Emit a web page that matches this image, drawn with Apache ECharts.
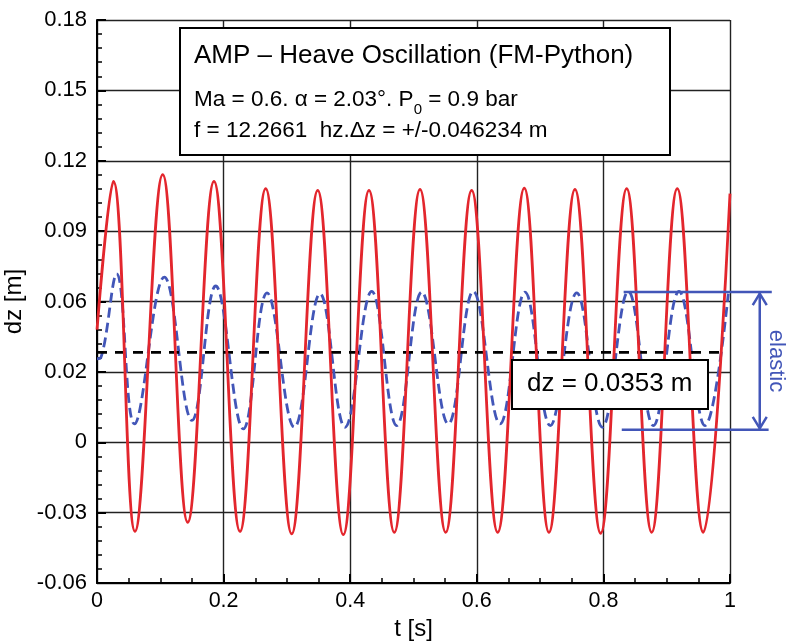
<!DOCTYPE html>
<html><head><meta charset="utf-8">
<script src="https://cdn.jsdelivr.net/npm/echarts@6/dist/echarts.min.js"></script>
<style>html,body{margin:0;padding:0;background:#fff}#c{width:786px;height:641px}</style>
</head><body><div id="c"></div>
<script>
// ---- data ----
const xTickLabels = ['0', '0.2', '0.4', '0.6', '0.8', '1'];
const yTickLabels = ['-0.06', '-0.03', '0', '0.02', '0.06', '0.09', '0.12', '0.15', '0.18'];

// red solid curve: start, alternating peaks / troughs, end
const redT = [0, 0.0258, 0.060, 0.1038, 0.1433, 0.1848, 0.2259, 0.2665, 0.3076, 0.3487, 0.3891, 0.4297, 0.4697,
  0.5103, 0.5509, 0.5919, 0.633, 0.675, 0.714, 0.7551, 0.7957, 0.8368, 0.8763, 0.9167, 0.9578, 1.0];
const redV = [0.048, 0.1112, -0.038, 0.1141, -0.0341, 0.1112, -0.038, 0.1081, -0.0391, 0.1074, -0.0394, 0.1074, -0.0384,
  0.1078, -0.0384, 0.1074, -0.0384, 0.1083, -0.0384, 0.1078, -0.0388, 0.1081, -0.0384, 0.1081, -0.0384, 0.106];

// blue dashed curve (elastic)
const blueT = [0, 0.006, 0.0311, 0.0591, 0.1063, 0.150, 0.1875, 0.2311, 0.2686, 0.3117, 0.3523, 0.3918, 0.434, 0.4735,
  0.513, 0.555, 0.5945, 0.6367, 0.6761, 0.716, 0.7578, 0.7983, 0.8394, 0.8789, 0.9194, 0.9605, 0.9973];
const blueV = [0.0356, 0.036, 0.0718, 0.0078, 0.0704, 0.0093, 0.0666, 0.0057, 0.0637, 0.0064, 0.0633, 0.0064, 0.0643, 0.0071,
  0.064, 0.0078, 0.0643, 0.0078, 0.064, 0.0071, 0.0637, 0.0064, 0.0643, 0.0071, 0.0643, 0.0071, 0.0633];

// black dashed mean line
const meanT = [0, 0.992];
const meanV = [0.0383, 0.0383];

// elastic amplitude bracket (bottom, top)
const elasticRange = [0.0053, 0.064];

const titleText = 'AMP \u2013 Heave Oscillation (FM-Python)';
const dzText = 'dz = 0.0353 m';

// ---- chart ----
const FONT = "'Liberation Sans', Arial, sans-serif";
const RED = '#e3262d';
const BLUE = '#4256b8';
const zip = (a, b) => a.map((v, i) => [v, b[i]]);
const chart = echarts.init(document.getElementById('c'), null, { renderer: 'canvas' });

const axisCommon = {
  axisLine: { onZero: false, lineStyle: { color: '#000', width: 2 } },
  axisTick: { inside: true, length: 9, lineStyle: { color: '#000', width: 2 } },
  splitLine: { show: true, lineStyle: { color: '#222', width: 1.4 } },
  nameLocation: 'middle',
  nameTextStyle: { fontSize: 24, color: '#000', fontFamily: FONT }
};

const option = {
  animation: false,
  backgroundColor: '#fff',
  grid: { left: 97, right: 56, top: 20, bottom: 58, containLabel: false, outerBoundsMode: 'none' },
  xAxis: Object.assign({}, axisCommon, {
    type: 'value', min: 0, max: 1, interval: 0.2,
    name: 't [s]', nameGap: 33,
    minorTick: { show: true, splitNumber: 4, length: 5, lineStyle: { color: '#000', width: 1.5 } },
    axisLabel: { formatter: v => xTickLabels[Math.round(v / 0.2)], fontSize: 21.5, color: '#000', fontFamily: FONT, margin: 7 }
  }),
  yAxis: Object.assign({}, axisCommon, {
    type: 'value', min: -0.06, max: 0.18, interval: 0.03,
    name: 'dz [m]', nameGap: 62, nameRotate: 90,
    minorTick: { show: true, splitNumber: 5, length: 5, lineStyle: { color: '#000', width: 1.5 } },
    axisLabel: { formatter: v => yTickLabels[Math.round((v + 0.06) / 0.03)], fontSize: 22, color: '#000', fontFamily: FONT, margin: 10 }
  }),
  series: [
    {
      type: 'line', data: zip(blueT, blueV), smooth: 0.4, showSymbol: false, z: 3,
      lineStyle: { color: BLUE, width: 2.8, type: [10, 5] }
    },
    {
      type: 'line', data: zip(meanT, meanV), showSymbol: false, z: 4,
      lineStyle: { color: '#000', width: 2.6, type: [10, 8] }
    },
    {
      type: 'line', data: zip(redT, redV), smooth: 0.4, showSymbol: false, z: 5,
      lineStyle: { color: RED, width: 2.8 }
    },
    {
      type: 'custom', clip: false, z: 6, silent: true,
      data: [[0.9, 0.03]],
      renderItem: function (params, api) {
        const lo = elasticRange[0], hi = elasticRange[1];
        const tL = api.coord([0.832, hi]), tR = api.coord([1.066, hi]);
        const bL = api.coord([0.829, lo]), bR = api.coord([1.061, lo]);
        const aT = api.coord([1.047, hi]), aB = api.coord([1.047, lo]);
        const s = { stroke: BLUE, lineWidth: 2.5, fill: null };
        const ax = aT[0];
        return {
          type: 'group', children: [
            { type: 'line', shape: { x1: tL[0], y1: tL[1], x2: tR[0], y2: tR[1] }, style: s },
            { type: 'line', shape: { x1: bL[0], y1: bL[1], x2: bR[0], y2: bR[1] }, style: s },
            { type: 'line', shape: { x1: ax, y1: aT[1] + 1, x2: ax, y2: aB[1] - 1 }, style: s },
            { type: 'polyline', shape: { points: [[ax - 7, aT[1] + 13], [ax, aT[1] + 1.5], [ax + 7, aT[1] + 13]] }, style: s },
            { type: 'polyline', shape: { points: [[ax - 7, aB[1] - 13], [ax, aB[1] - 1.5], [ax + 7, aB[1] - 13]] }, style: s },
            {
              type: 'text', x: ax + 16, y: (aT[1] + aB[1]) / 2, rotation: -Math.PI / 2,
              style: { text: 'elastic', fill: BLUE, fontSize: 22, fontFamily: FONT, align: 'center', verticalAlign: 'middle' }
            }
          ]
        };
      }
    }
  ],
  graphic: [
    { type: 'rect', left: 179, top: 27, z: 100, shape: { width: 490, height: 127 }, style: { fill: '#fff', stroke: '#000', lineWidth: 2 } },
    { type: 'text', left: 194, top: 43, z: 101, style: { text: titleText, fontSize: 26, fontFamily: FONT, fill: '#000' } },
    {
      type: 'text', left: 194, top: 88, z: 101, style: {
        text: '{a|Ma = 0.6. \u03b1 = 2.03\u00b0. P}{s|0}{a| = 0.9 bar}',
        rich: {
          a: { fontSize: 22.5, fontFamily: FONT, fill: '#000', lineHeight: 26, verticalAlign: 'bottom' },
          s: { fontSize: 15, fontFamily: FONT, fill: '#000', lineHeight: 20, verticalAlign: 'bottom', padding: [0, 0, -6, 0] }
        }
      }
    },
    { type: 'text', left: 194, top: 119, z: 101, style: { text: 'f = 12.2661  hz.\u0394z = +/-0.046234 m', fontSize: 22.5, fontFamily: FONT, fill: '#000' } },
    { type: 'rect', left: 511, top: 359, z: 100, shape: { width: 196, height: 49 }, style: { fill: '#fff', stroke: '#000', lineWidth: 2 } },
    { type: 'text', left: 527, top: 371, z: 101, style: { text: dzText, fontSize: 26, fontFamily: FONT, fill: '#000' } }
  ]
};
chart.setOption(option);
</script>
</body></html>
